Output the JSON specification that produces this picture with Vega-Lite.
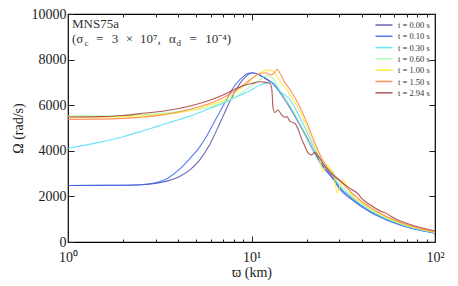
{
  "$schema": "https://vega.github.io/schema/vega-lite/v6.json",
  "width": 367,
  "height": 228,
  "autosize": {"type": "none"},
  "padding": {"left": 68, "top": 14, "right": 23, "bottom": 44},
  "background": "white",
  "config": {
    "view": {"stroke": "black", "strokeWidth": 1.2},
    "font": "Liberation Serif",
    "axis": {"domain": false, "grid": false, "labelFont": "Liberation Serif", "titleFont": "Liberation Serif", "labelColor": "#222", "titleColor": "#222", "tickColor": "#222", "titleFontWeight": "normal", "labelFontSize": 14, "titleFontSize": 14},
    "text": {"font": "Liberation Serif", "fontSize": 13, "color": "#333", "align": "left", "baseline": "alphabetic"}
  },
  "datasets": {
    "curves": [
      {"t": "t = 0.00 s", "r": 1, "w": 2480}, {"t": "t = 0.00 s", "r": 1.5, "w": 2485}, {"t": "t = 0.00 s", "r": 2, "w": 2490}, {"t": "t = 0.00 s", "r": 2.5, "w": 2510}, {"t": "t = 0.00 s", "r": 3, "w": 2570}, {"t": "t = 0.00 s", "r": 3.5, "w": 2680}, {"t": "t = 0.00 s", "r": 4, "w": 2850}, {"t": "t = 0.00 s", "r": 4.6, "w": 3150}, {"t": "t = 0.00 s", "r": 5.2, "w": 3580}, {"t": "t = 0.00 s", "r": 5.9, "w": 4250}, {"t": "t = 0.00 s", "r": 6.5, "w": 4950}, {"t": "t = 0.00 s", "r": 7.0, "w": 5520}, {"t": "t = 0.00 s", "r": 7.64, "w": 6180}, {"t": "t = 0.00 s", "r": 8.3, "w": 6720}, {"t": "t = 0.00 s", "r": 9.0, "w": 7130}, {"t": "t = 0.00 s", "r": 9.6, "w": 7350}, {"t": "t = 0.00 s", "r": 10.2, "w": 7410}, {"t": "t = 0.00 s", "r": 11.0, "w": 7320}, {"t": "t = 0.00 s", "r": 12.0, "w": 7150}, {"t": "t = 0.00 s", "r": 13.1, "w": 6950}, {"t": "t = 0.00 s", "r": 14.3, "w": 6600}, {"t": "t = 0.00 s", "r": 15.6, "w": 6150}, {"t": "t = 0.00 s", "r": 17, "w": 5650}, {"t": "t = 0.00 s", "r": 18.4, "w": 5150}, {"t": "t = 0.00 s", "r": 20, "w": 4600}, {"t": "t = 0.00 s", "r": 22, "w": 3950}, {"t": "t = 0.00 s", "r": 25, "w": 3250}, {"t": "t = 0.00 s", "r": 28, "w": 2780}, {"t": "t = 0.00 s", "r": 30, "w": 2430}, {"t": "t = 0.00 s", "r": 35, "w": 1930}, {"t": "t = 0.00 s", "r": 40, "w": 1580}, {"t": "t = 0.00 s", "r": 45, "w": 1320}, {"t": "t = 0.00 s", "r": 50, "w": 1130}, {"t": "t = 0.00 s", "r": 60, "w": 860}, {"t": "t = 0.00 s", "r": 70, "w": 681}, {"t": "t = 0.00 s", "r": 85, "w": 509}, {"t": "t = 0.00 s", "r": 100, "w": 399},

      {"t": "t = 0.10 s", "r": 1, "w": 2480}, {"t": "t = 0.10 s", "r": 2, "w": 2490}, {"t": "t = 0.10 s", "r": 2.5, "w": 2510}, {"t": "t = 0.10 s", "r": 3, "w": 2600}, {"t": "t = 0.10 s", "r": 3.5, "w": 2800}, {"t": "t = 0.10 s", "r": 4, "w": 3150}, {"t": "t = 0.10 s", "r": 4.6, "w": 3650}, {"t": "t = 0.10 s", "r": 5.2, "w": 4150}, {"t": "t = 0.10 s", "r": 5.7, "w": 4650}, {"t": "t = 0.10 s", "r": 6.3, "w": 5300}, {"t": "t = 0.10 s", "r": 7.3, "w": 6230}, {"t": "t = 0.10 s", "r": 8.0, "w": 6800}, {"t": "t = 0.10 s", "r": 8.6, "w": 7100}, {"t": "t = 0.10 s", "r": 9.6, "w": 7400}, {"t": "t = 0.10 s", "r": 10.2, "w": 7420}, {"t": "t = 0.10 s", "r": 11.0, "w": 7340}, {"t": "t = 0.10 s", "r": 12.0, "w": 7170}, {"t": "t = 0.10 s", "r": 13.1, "w": 6950}, {"t": "t = 0.10 s", "r": 14.3, "w": 6550}, {"t": "t = 0.10 s", "r": 15.6, "w": 6100}, {"t": "t = 0.10 s", "r": 17, "w": 5600}, {"t": "t = 0.10 s", "r": 18.4, "w": 5100}, {"t": "t = 0.10 s", "r": 20, "w": 4550}, {"t": "t = 0.10 s", "r": 22, "w": 3900}, {"t": "t = 0.10 s", "r": 25, "w": 3200}, {"t": "t = 0.10 s", "r": 28, "w": 2730}, {"t": "t = 0.10 s", "r": 30, "w": 2355}, {"t": "t = 0.10 s", "r": 35, "w": 1870}, {"t": "t = 0.10 s", "r": 40, "w": 1530}, {"t": "t = 0.10 s", "r": 45, "w": 1280}, {"t": "t = 0.10 s", "r": 50, "w": 1095}, {"t": "t = 0.10 s", "r": 60, "w": 833}, {"t": "t = 0.10 s", "r": 70, "w": 660}, {"t": "t = 0.10 s", "r": 85, "w": 493}, {"t": "t = 0.10 s", "r": 100, "w": 386},

      {"t": "t = 0.30 s", "r": 1, "w": 4110}, {"t": "t = 0.30 s", "r": 1.5, "w": 4380}, {"t": "t = 0.30 s", "r": 2, "w": 4620}, {"t": "t = 0.30 s", "r": 2.5, "w": 4850}, {"t": "t = 0.30 s", "r": 3, "w": 5050}, {"t": "t = 0.30 s", "r": 3.75, "w": 5290}, {"t": "t = 0.30 s", "r": 4.6, "w": 5520}, {"t": "t = 0.30 s", "r": 5.7, "w": 5800}, {"t": "t = 0.30 s", "r": 7, "w": 6080}, {"t": "t = 0.30 s", "r": 8.3, "w": 6370}, {"t": "t = 0.30 s", "r": 9.6, "w": 6600}, {"t": "t = 0.30 s", "r": 11.1, "w": 6880}, {"t": "t = 0.30 s", "r": 12.1, "w": 6980}, {"t": "t = 0.30 s", "r": 12.9, "w": 7020}, {"t": "t = 0.30 s", "r": 13.5, "w": 6880}, {"t": "t = 0.30 s", "r": 14.3, "w": 6620}, {"t": "t = 0.30 s", "r": 15.2, "w": 6450}, {"t": "t = 0.30 s", "r": 16.2, "w": 6250}, {"t": "t = 0.30 s", "r": 17.2, "w": 5900}, {"t": "t = 0.30 s", "r": 18.4, "w": 5450}, {"t": "t = 0.30 s", "r": 20, "w": 4850}, {"t": "t = 0.30 s", "r": 22, "w": 4100}, {"t": "t = 0.30 s", "r": 25, "w": 3320}, {"t": "t = 0.30 s", "r": 28, "w": 2850}, {"t": "t = 0.30 s", "r": 30, "w": 2480}, {"t": "t = 0.30 s", "r": 35, "w": 1970}, {"t": "t = 0.30 s", "r": 40, "w": 1610}, {"t": "t = 0.30 s", "r": 45, "w": 1350}, {"t": "t = 0.30 s", "r": 50, "w": 1155}, {"t": "t = 0.30 s", "r": 55, "w": 1000}, {"t": "t = 0.30 s", "r": 60, "w": 878}, {"t": "t = 0.30 s", "r": 70, "w": 695}, {"t": "t = 0.30 s", "r": 85, "w": 520}, {"t": "t = 0.30 s", "r": 100, "w": 407},

      {"t": "t = 0.60 s", "r": 1, "w": 5530}, {"t": "t = 0.60 s", "r": 1.5, "w": 5525}, {"t": "t = 0.60 s", "r": 2, "w": 5545}, {"t": "t = 0.60 s", "r": 2.5, "w": 5580}, {"t": "t = 0.60 s", "r": 3, "w": 5620}, {"t": "t = 0.60 s", "r": 4, "w": 5720}, {"t": "t = 0.60 s", "r": 5, "w": 5810}, {"t": "t = 0.60 s", "r": 5.7, "w": 5880}, {"t": "t = 0.60 s", "r": 7, "w": 6120}, {"t": "t = 0.60 s", "r": 8.3, "w": 6400}, {"t": "t = 0.60 s", "r": 9.6, "w": 6750}, {"t": "t = 0.60 s", "r": 11.1, "w": 7100}, {"t": "t = 0.60 s", "r": 12.1, "w": 7300}, {"t": "t = 0.60 s", "r": 12.8, "w": 7250}, {"t": "t = 0.60 s", "r": 13.5, "w": 7000}, {"t": "t = 0.60 s", "r": 14.5, "w": 6550}, {"t": "t = 0.60 s", "r": 16.2, "w": 5950}, {"t": "t = 0.60 s", "r": 18.4, "w": 5150}, {"t": "t = 0.60 s", "r": 20, "w": 4550}, {"t": "t = 0.60 s", "r": 22, "w": 3900}, {"t": "t = 0.60 s", "r": 23, "w": 3580}, {"t": "t = 0.60 s", "r": 24, "w": 3520}, {"t": "t = 0.60 s", "r": 25.5, "w": 3250}, {"t": "t = 0.60 s", "r": 27.9, "w": 3080}, {"t": "t = 0.60 s", "r": 29, "w": 2780}, {"t": "t = 0.60 s", "r": 30, "w": 2600}, {"t": "t = 0.60 s", "r": 35, "w": 2030}, {"t": "t = 0.60 s", "r": 40, "w": 1660}, {"t": "t = 0.60 s", "r": 45, "w": 1390}, {"t": "t = 0.60 s", "r": 50, "w": 1190}, {"t": "t = 0.60 s", "r": 60, "w": 905}, {"t": "t = 0.60 s", "r": 70, "w": 717}, {"t": "t = 0.60 s", "r": 85, "w": 536}, {"t": "t = 0.60 s", "r": 100, "w": 420},

      {"t": "t = 1.00 s", "r": 1, "w": 5490}, {"t": "t = 1.00 s", "r": 1.5, "w": 5485}, {"t": "t = 1.00 s", "r": 2, "w": 5500}, {"t": "t = 1.00 s", "r": 2.5, "w": 5530}, {"t": "t = 1.00 s", "r": 3, "w": 5570}, {"t": "t = 1.00 s", "r": 4, "w": 5670}, {"t": "t = 1.00 s", "r": 5, "w": 5820}, {"t": "t = 1.00 s", "r": 5.7, "w": 5980}, {"t": "t = 1.00 s", "r": 7, "w": 6200}, {"t": "t = 1.00 s", "r": 8.3, "w": 6600}, {"t": "t = 1.00 s", "r": 9.6, "w": 7000}, {"t": "t = 1.00 s", "r": 10.7, "w": 7330}, {"t": "t = 1.00 s", "r": 11.5, "w": 7480}, {"t": "t = 1.00 s", "r": 12.6, "w": 7540}, {"t": "t = 1.00 s", "r": 13.3, "w": 7450}, {"t": "t = 1.00 s", "r": 14.3, "w": 7050}, {"t": "t = 1.00 s", "r": 15.2, "w": 6800}, {"t": "t = 1.00 s", "r": 16.2, "w": 6460}, {"t": "t = 1.00 s", "r": 18.4, "w": 5700}, {"t": "t = 1.00 s", "r": 20, "w": 5050}, {"t": "t = 1.00 s", "r": 22, "w": 4250}, {"t": "t = 1.00 s", "r": 23.5, "w": 3650}, {"t": "t = 1.00 s", "r": 24.6, "w": 3080}, {"t": "t = 1.00 s", "r": 25.6, "w": 3380}, {"t": "t = 1.00 s", "r": 27, "w": 3200}, {"t": "t = 1.00 s", "r": 28.2, "w": 2850}, {"t": "t = 1.00 s", "r": 29.3, "w": 2150}, {"t": "t = 1.00 s", "r": 30.5, "w": 2500}, {"t": "t = 1.00 s", "r": 31.5, "w": 2700}, {"t": "t = 1.00 s", "r": 33, "w": 2500}, {"t": "t = 1.00 s", "r": 35, "w": 2090}, {"t": "t = 1.00 s", "r": 40, "w": 1710}, {"t": "t = 1.00 s", "r": 45, "w": 1430}, {"t": "t = 1.00 s", "r": 50, "w": 1225}, {"t": "t = 1.00 s", "r": 60, "w": 932}, {"t": "t = 1.00 s", "r": 70, "w": 738}, {"t": "t = 1.00 s", "r": 85, "w": 552}, {"t": "t = 1.00 s", "r": 100, "w": 433},

      {"t": "t = 1.50 s", "r": 1, "w": 5380}, {"t": "t = 1.50 s", "r": 1.5, "w": 5390}, {"t": "t = 1.50 s", "r": 2, "w": 5420}, {"t": "t = 1.50 s", "r": 2.5, "w": 5470}, {"t": "t = 1.50 s", "r": 3, "w": 5530}, {"t": "t = 1.50 s", "r": 4, "w": 5700}, {"t": "t = 1.50 s", "r": 5, "w": 5900}, {"t": "t = 1.50 s", "r": 5.7, "w": 6030}, {"t": "t = 1.50 s", "r": 7, "w": 6330}, {"t": "t = 1.50 s", "r": 8.3, "w": 6680}, {"t": "t = 1.50 s", "r": 9.6, "w": 7050}, {"t": "t = 1.50 s", "r": 10.7, "w": 7330}, {"t": "t = 1.50 s", "r": 11.8, "w": 7420}, {"t": "t = 1.50 s", "r": 12.8, "w": 7330}, {"t": "t = 1.50 s", "r": 13.3, "w": 7420}, {"t": "t = 1.50 s", "r": 13.8, "w": 7580}, {"t": "t = 1.50 s", "r": 14.3, "w": 7400}, {"t": "t = 1.50 s", "r": 15.2, "w": 7000}, {"t": "t = 1.50 s", "r": 16.2, "w": 6690}, {"t": "t = 1.50 s", "r": 18.4, "w": 5900}, {"t": "t = 1.50 s", "r": 20, "w": 5250}, {"t": "t = 1.50 s", "r": 22, "w": 4400}, {"t": "t = 1.50 s", "r": 25, "w": 3450}, {"t": "t = 1.50 s", "r": 28, "w": 2950}, {"t": "t = 1.50 s", "r": 30, "w": 2740}, {"t": "t = 1.50 s", "r": 35, "w": 2170}, {"t": "t = 1.50 s", "r": 40, "w": 1775}, {"t": "t = 1.50 s", "r": 45, "w": 1490}, {"t": "t = 1.50 s", "r": 50, "w": 1275}, {"t": "t = 1.50 s", "r": 60, "w": 968}, {"t": "t = 1.50 s", "r": 70, "w": 767}, {"t": "t = 1.50 s", "r": 85, "w": 574}, {"t": "t = 1.50 s", "r": 100, "w": 450},

      {"t": "t = 2.94 s", "r": 1, "w": 5480}, {"t": "t = 2.94 s", "r": 1.5, "w": 5500}, {"t": "t = 2.94 s", "r": 2, "w": 5550}, {"t": "t = 2.94 s", "r": 2.47, "w": 5630}, {"t": "t = 2.94 s", "r": 3, "w": 5700}, {"t": "t = 2.94 s", "r": 4.08, "w": 5870}, {"t": "t = 2.94 s", "r": 5.7, "w": 6170}, {"t": "t = 2.94 s", "r": 7, "w": 6450}, {"t": "t = 2.94 s", "r": 7.96, "w": 6670}, {"t": "t = 2.94 s", "r": 9, "w": 6850}, {"t": "t = 2.94 s", "r": 10, "w": 6950}, {"t": "t = 2.94 s", "r": 11.1, "w": 7030}, {"t": "t = 2.94 s", "r": 12, "w": 7000}, {"t": "t = 2.94 s", "r": 12.6, "w": 6950}, {"t": "t = 2.94 s", "r": 12.9, "w": 6700}, {"t": "t = 2.94 s", "r": 13.1, "w": 5900}, {"t": "t = 2.94 s", "r": 13.4, "w": 5680}, {"t": "t = 2.94 s", "r": 13.96, "w": 5790}, {"t": "t = 2.94 s", "r": 14.6, "w": 5570}, {"t": "t = 2.94 s", "r": 15.2, "w": 5470}, {"t": "t = 2.94 s", "r": 15.6, "w": 5500}, {"t": "t = 2.94 s", "r": 16.2, "w": 5290}, {"t": "t = 2.94 s", "r": 17.2, "w": 5210}, {"t": "t = 2.94 s", "r": 18.0, "w": 4920}, {"t": "t = 2.94 s", "r": 18.4, "w": 4700}, {"t": "t = 2.94 s", "r": 19.4, "w": 4250}, {"t": "t = 2.94 s", "r": 20.4, "w": 3900}, {"t": "t = 2.94 s", "r": 21.3, "w": 3820}, {"t": "t = 2.94 s", "r": 22.1, "w": 3930}, {"t": "t = 2.94 s", "r": 23, "w": 3800}, {"t": "t = 2.94 s", "r": 25, "w": 3350}, {"t": "t = 2.94 s", "r": 28, "w": 2900}, {"t": "t = 2.94 s", "r": 30, "w": 2720}, {"t": "t = 2.94 s", "r": 33, "w": 2450}, {"t": "t = 2.94 s", "r": 35.5, "w": 2280}, {"t": "t = 2.94 s", "r": 38, "w": 2120}, {"t": "t = 2.94 s", "r": 40, "w": 1900}, {"t": "t = 2.94 s", "r": 45, "w": 1600}, {"t": "t = 2.94 s", "r": 50, "w": 1370}, {"t": "t = 2.94 s", "r": 55, "w": 1230}, {"t": "t = 2.94 s", "r": 60, "w": 1040}, {"t": "t = 2.94 s", "r": 70, "w": 820}, {"t": "t = 2.94 s", "r": 85, "w": 610}, {"t": "t = 2.94 s", "r": 100, "w": 490}
    ],
    "one": [{}]
  },
  "resolve": {"axis": {"x": "independent", "y": "independent"}},
  "layer": [
    {
      "data": {"name": "curves"},
      "mark": {"type": "line", "strokeWidth": 1.1, "opacity": 0.85, "interpolate": "monotone"},
      "encoding": {
        "x": {"field": "r", "type": "quantitative", "scale": {"type": "log", "domain": [1, 100], "nice": false},
          "axis": {"orient": "bottom", "title": "ϖ (km)", "values": [1,2,3,4,5,6,7,8,9,10,20,30,40,50,60,70,80,90,100],
            "tickSize": {"condition": {"test": "datum.value == 1 || datum.value == 10 || datum.value == 100", "value": -6}, "value": -3},
            "labelExpr": "datum.value == 1 ? '10⁰' : datum.value == 10 ? '10¹' : datum.value == 100 ? '10²' : ''",
            "labelFont": "Liberation Serif", "titleFont": "Liberation Serif",
            "labelPadding": 14, "labelFlush": false, "labelOverlap": false, "titlePadding": -2}},
        "y": {"field": "w", "type": "quantitative", "scale": {"domain": [0, 10000], "nice": false},
          "axis": {"orient": "left", "title": "Ω (rad/s)", "values": [0, 2000, 4000, 6000, 8000, 10000], "tickSize": -6, "labelPadding": 8, "format": "d", "titlePadding": 6, "labelFlush": false,
            "labelFont": "Liberation Serif", "titleFont": "Liberation Serif"}},
        "color": {"field": "t", "type": "nominal",
          "scale": {"domain": ["t = 0.00 s", "t = 0.10 s", "t = 0.30 s", "t = 0.60 s", "t = 1.00 s", "t = 1.50 s", "t = 2.94 s"],
            "range": ["#4d4da6", "#3b62f5", "#55dcff", "#9efc9e", "#ffe629", "#ff8040", "#a33b3b"]},
          "legend": {"orient": "top-right", "title": null, "offset": 5, "padding": 0, "symbolType": "M-1.7,0L1.7,0", "symbolSize": 100, "symbolStrokeWidth": 1.5, "labelFont": "Liberation Serif", "labelFontSize": 8.5, "labelColor": "#333", "labelOffset": 8, "rowPadding": 0.3}}
      }
    },
    {
      "data": {"name": "curves"},
      "mark": {"type": "line", "opacity": 0},
      "encoding": {
        "detail": {"field": "t"},
        "x": {"field": "r", "type": "quantitative", "scale": {"type": "log", "domain": [1, 100], "nice": false},
          "axis": {"orient": "top", "title": null, "labels": false, "values": [1,2,3,4,5,6,7,8,9,10,20,30,40,50,60,70,80,90,100],
            "tickSize": {"condition": {"test": "datum.value == 1 || datum.value == 10 || datum.value == 100", "value": -6}, "value": -3}}},
        "y": {"field": "w", "type": "quantitative", "scale": {"domain": [0, 10000], "nice": false},
          "axis": {"orient": "right", "title": null, "labels": false, "values": [0, 2000, 4000, 6000, 8000, 10000], "tickSize": -6}}
      }
    },
    {
      "data": {"name": "one"},
      "mark": {"type": "text"},
      "encoding": {"x": {"datum": 1.051, "type": "quantitative", "axis": null}, "y": {"datum": 9370, "type": "quantitative", "axis": null}, "text": {"value": "MNS75a"}}
    },
    {
      "data": {"name": "one"},
      "mark": {"type": "text"},
      "encoding": {"x": {"datum": 1.051, "type": "quantitative", "axis": null}, "y": {"datum": 8720, "type": "quantitative", "axis": null}, "text": {"value": "(σ"}}
    },
    {
      "data": {"name": "one"},
      "mark": {"type": "text", "fontSize": 9, "dx": 12.5, "dy": 2.5},
      "encoding": {"x": {"datum": 1.051, "type": "quantitative", "axis": null}, "y": {"datum": 8720, "type": "quantitative", "axis": null}, "text": {"value": "c"}}
    },
    {
      "data": {"name": "one"},
      "mark": {"type": "text", "dx": 24},
      "encoding": {"x": {"datum": 1.051, "type": "quantitative", "axis": null}, "y": {"datum": 8720, "type": "quantitative", "axis": null}, "text": {"value": "="}}
    },
    {
      "data": {"name": "one"},
      "mark": {"type": "text", "dx": 39.8},
      "encoding": {"x": {"datum": 1.051, "type": "quantitative", "axis": null}, "y": {"datum": 8720, "type": "quantitative", "axis": null}, "text": {"value": "3"}}
    },
    {
      "data": {"name": "one"},
      "mark": {"type": "text", "dx": 53.8},
      "encoding": {"x": {"datum": 1.051, "type": "quantitative", "axis": null}, "y": {"datum": 8720, "type": "quantitative", "axis": null}, "text": {"value": "×"}}
    },
    {
      "data": {"name": "one"},
      "mark": {"type": "text", "dx": 68.1},
      "encoding": {"x": {"datum": 1.051, "type": "quantitative", "axis": null}, "y": {"datum": 8720, "type": "quantitative", "axis": null}, "text": {"value": "10⁷,"}}
    },
    {
      "data": {"name": "one"},
      "mark": {"type": "text", "dx": 97},
      "encoding": {"x": {"datum": 1.051, "type": "quantitative", "axis": null}, "y": {"datum": 8720, "type": "quantitative", "axis": null}, "text": {"value": "α"}}
    },
    {
      "data": {"name": "one"},
      "mark": {"type": "text", "fontSize": 9, "dx": 104.5, "dy": 2.5},
      "encoding": {"x": {"datum": 1.051, "type": "quantitative", "axis": null}, "y": {"datum": 8720, "type": "quantitative", "axis": null}, "text": {"value": "d"}}
    },
    {
      "data": {"name": "one"},
      "mark": {"type": "text", "dx": 117.5},
      "encoding": {"x": {"datum": 1.051, "type": "quantitative", "axis": null}, "y": {"datum": 8720, "type": "quantitative", "axis": null}, "text": {"value": "="}}
    },
    {
      "data": {"name": "one"},
      "mark": {"type": "text", "dx": 133.3},
      "encoding": {"x": {"datum": 1.051, "type": "quantitative", "axis": null}, "y": {"datum": 8720, "type": "quantitative", "axis": null}, "text": {"value": "10⁻⁴)"}}
    }
  ]
}
